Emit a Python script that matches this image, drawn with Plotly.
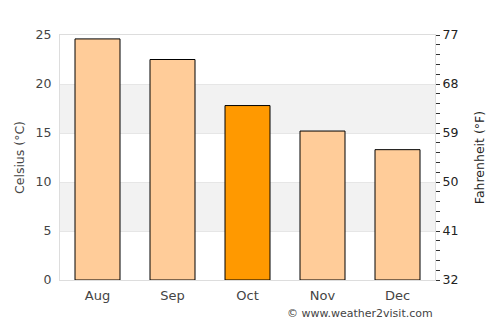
import plotly.graph_objects as go

months = ["Aug", "Sep", "Oct", "Nov", "Dec"]
celsius = [24.6, 22.5, 17.8, 15.2, 13.3]
bar_colors = ["#FFCC99", "#FFCC99", "#FF9900", "#FFCC99", "#FFCC99"]
c_ticks = [0, 5, 10, 15, 20, 25]
f_ticks = [32, 41, 50, 59, 68, 77]

fig = go.Figure()
fig.add_trace(go.Bar(
    x=months, y=celsius, width=0.6,
    marker=dict(color=bar_colors, line=dict(color="#000000", width=1)),
    hoverinfo="skip", showlegend=False,
))
# invisible trace for the Fahrenheit axis
fig.add_trace(go.Scatter(x=months, y=[None]*len(months), yaxis="y2",
                         showlegend=False, hoverinfo="skip"))

for lo, hi in [(5, 10), (15, 20)]:
    fig.add_shape(type="rect", xref="paper", yref="y", x0=0, x1=1, y0=lo, y1=hi,
                  fillcolor="#F2F2F2", line_width=0, layer="below")

fig.update_layout(
    width=500, height=325,
    margin=dict(l=60, r=65, t=35, b=45),
    plot_bgcolor="white", paper_bgcolor="white",
    font=dict(family="DejaVu Sans", size=12, color="#444444"),
    bargap=0.4,
    xaxis=dict(showline=True, linecolor="#DDDDDD", mirror=True, showgrid=False,
               ticks="", tickfont=dict(size=13, color="#444444"), fixedrange=True,
               ticklabelstandoff=3),
    yaxis=dict(range=[0, 25], tickvals=c_ticks, showgrid=True, gridcolor="#E6E6E6",
               showline=True, linecolor="#DDDDDD", mirror=True, zeroline=False,
               ticks="", tickfont=dict(size=12.5, color="#444444"), ticklabelstandoff=5,
               title=dict(text="Celsius (°C)", font=dict(size=12.5, color="#444444"), standoff=8)),
    yaxis2=dict(range=[32, 77], tickvals=f_ticks, overlaying="y", side="right",
                showgrid=False, zeroline=False, ticks="outside", ticklen=4,
                tickcolor="#333333", tickfont=dict(size=12.5, color="#222222"),
                minor=dict(dtick=1.8, tick0=32, ticks="outside", ticklen=4, tickcolor="#333333"),
                title=dict(text="Fahrenheit (°F)", font=dict(size=12.5, color="#222222"), standoff=17)),
    annotations=[dict(text="© www.weather2visit.com", xref="paper", yref="paper",
                      x=1, y=-0.135, xanchor="right", yanchor="middle", showarrow=False,
                      font=dict(size=11, color="#444444"))],
)

fig.write_html("out.html")
